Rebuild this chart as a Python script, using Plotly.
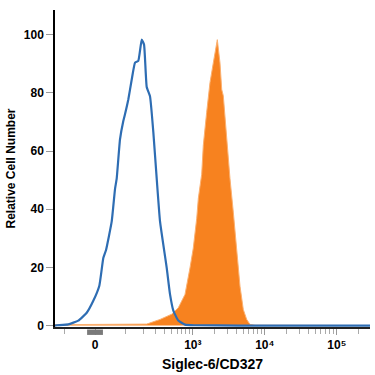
import numpy as np
import plotly.graph_objects as go

# Axis coordinate: biexponential display position (0 = zero, 1 unit = 1 decade)
blue_x = [-0.556, -0.532, -0.371, -0.232, -0.115, -0.024, 0.060, 0.115, 0.153, 0.232,
          0.278, 0.301, 0.347, 0.393, 0.417, 0.463, 0.510, 0.556, 0.601, 0.649,
          0.681, 0.718, 0.764, 0.810, 0.857, 0.903, 0.996, 1.042, 1.088, 1.157,
          1.25, 1.39, 2.0, 3.0, 3.82]
blue_y = [0.0, 0.1, 0.4, 1.7, 4.4, 8.5, 13.7, 23.2, 26.0, 35.8,
          47.0, 50.5, 64.0, 70.3, 72.7, 77.8, 84.6, 90.4, 91.0, 98.3,
          96.6, 82.0, 78.8, 66.5, 50.5, 35.8, 19.8, 10.7, 5.1, 1.7,
          0.3, 0.1, 0.0, 0.0, 0.0]

orange_x = [-0.556, 0.486, 0.718, 0.903, 1.065, 1.157, 1.25, 1.319, 1.365, 1.413,
            1.435, 1.482, 1.504, 1.551, 1.597, 1.643, 1.699, 1.736, 1.760, 1.782,
            1.819, 1.851, 1.875, 1.921, 1.968, 2.014, 2.060, 2.107, 2.153, 2.222, 3.82]
orange_y = [0.3, 0.4, 0.5, 2.1, 3.9, 6.1, 10.7, 19.8, 26.6, 36.9,
            43.7, 52.0, 61.9, 73.3, 83.5, 90.3, 98.3, 90.3, 81.2, 79.0,
            67.6, 56.2, 50.5, 39.0, 26.0, 13.5, 5.5, 2.1, 0.4, 0.1, 0.0]

tick_values = [0, 1e3, 1e4, 1e5]
tick_labels = ["0", "10³", "10⁴", "10⁵"]
minor_values = [-200, -100] + [k * 100 for k in range(1, 10)] + \
               [k * 1000 for k in range(2, 10)] + [k * 10000 for k in range(2, 10)] + \
               [k * 100000 for k in range(2, 3)]

y_ticks = [0, 20, 40, 60, 80, 100]


def biex(v):
    return np.arcsinh(np.asarray(v, dtype=float) / 87.6) / np.log(10)


font_family = "Liberation Sans Narrow, Arial Narrow, Liberation Sans, sans-serif"

fig = go.Figure()
fig.add_trace(go.Scatter(
    x=orange_x, y=orange_y, mode="lines", fill="tozeroy",
    fillcolor="#f7821f", line=dict(color="#fbb070", width=1),
    hoverinfo="skip", showlegend=False))
fig.add_trace(go.Scatter(
    x=blue_x, y=blue_y, mode="lines", line_shape="spline",
    line=dict(color="#2e6db3", width=2.2, smoothing=0.4),
    hoverinfo="skip", showlegend=False))

fig.add_shape(type="rect", xref="x", yref="paper",
              x0=-0.11, x1=0.11, y0=-0.025, y1=-0.008,
              fillcolor="#7a7a7a", line=dict(width=0), layer="above")

fig.update_layout(
    width=375, height=375,
    margin=dict(l=55, r=5, t=10, b=45),
    paper_bgcolor="white", plot_bgcolor="white",
    font=dict(family=font_family, color="black"),
    xaxis=dict(
        range=[-0.556, 3.82],
        tickmode="array", tickvals=list(biex(tick_values)), ticktext=tick_labels,
        ticks="outside", ticklen=6, tickcolor="#999999", tickwidth=1,
        tickfont=dict(size=12, family=font_family, weight="bold"),
        minor=dict(tickmode="array", tickvals=list(biex(minor_values)),
                   ticks="outside", ticklen=5, tickcolor="#aaaaaa", tickwidth=1),
        showline=True, linecolor="#222222", linewidth=1.5,
        showgrid=False, zeroline=False,
        title=dict(text="Siglec-6/CD327", standoff=8,
                   font=dict(size=14, family=font_family, weight="bold")),
    ),
    yaxis=dict(
        range=[-0.5, 108.5],
        tickmode="array", tickvals=y_ticks,
        ticks="outside", ticklen=7, tickcolor="#999999", tickwidth=1,
        tickfont=dict(size=12, family=font_family, weight="bold"),
        showline=True, linecolor="black", linewidth=1.5,
        showgrid=False, zeroline=False,
        title=dict(text="Relative Cell Number", standoff=6,
                   font=dict(size=12, family=font_family, weight="bold")),
    ),
)

fig.write_html("out.html")
